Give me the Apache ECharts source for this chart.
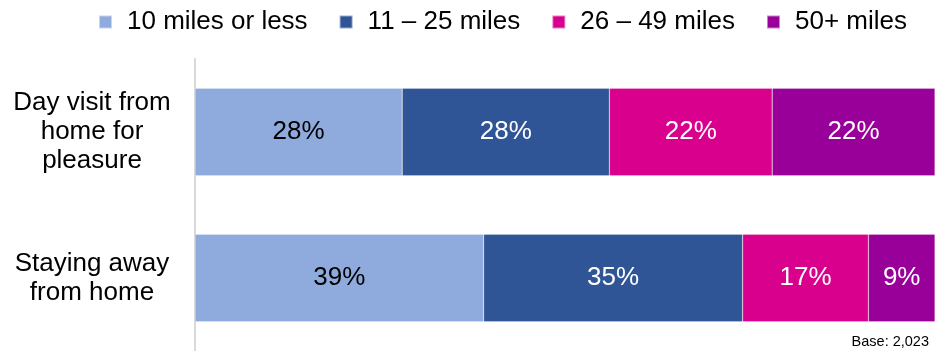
<!DOCTYPE html>
<html><head><meta charset="utf-8">
<script src="https://cdn.jsdelivr.net/npm/echarts@6/dist/echarts.min.js"></script>
<style>html,body{margin:0;padding:0;background:#fff}#c{width:935px;height:351px}</style>
</head><body><div id="c"></div>
<script>
const categories = ["Day visit from\nhome for\npleasure", "Staying away\nfrom home"];
const seriesNames = ["10 miles or less", "11 \u2013 25 miles", "26 \u2013 49 miles", "50+ miles"];
const values10 = [28, 39];
const values11 = [28, 35];
const values26 = [22, 17];
const values50 = [22, 9];
const colors = ["#8FAADC", "#2F5597", "#D9008D", "#990099"];
const labelColors = ["#000000", "#ffffff", "#ffffff", "#ffffff"];
const allValues = [values10, values11, values26, values50];
const FF = "Liberation Sans, Arial, sans-serif";

const chart = echarts.init(document.getElementById('c'));
chart.setOption({
  animation: false,
  textStyle: {fontFamily: FF},
  legend: {
    left: 93, top: 4, itemWidth: 13, itemHeight: 13, itemGap: 31,
    icon: 'rect',
    textStyle: {fontSize: 26, color: '#000', fontFamily: FF, padding: [0, 0, 0, 10]},
    data: seriesNames
  },
  grid: {left: 195, right: 0, top: 59, bottom: 0, containLabel: false},
  xAxis: {type: 'value', min: 0, max: 100, show: false},
  yAxis: {
    type: 'category', data: categories, inverse: true,
    axisLine: {show: true, lineStyle: {color: '#D9D9D9', width: 2}},
    axisTick: {show: false},
    axisLabel: {align: 'center', margin: 103, fontSize: 26, lineHeight: 29, color: '#000', fontFamily: FF}
  },
  series: seriesNames.map((n, i) => ({
    name: n, type: 'bar', stack: 'a', barWidth: '60%',
    data: allValues[i],
    itemStyle: {color: colors[i], borderColor: 'rgba(255,255,255,0.5)', borderWidth: 0.5},
    label: {show: true, position: 'inside', formatter: '{c}%', fontSize: 26, color: labelColors[i], fontFamily: FF}
  })),
  graphic: [{
    type: 'text', right: 6, bottom: 2,
    style: {text: 'Base: 2,023', fontSize: 14.5, fill: '#000', fontFamily: FF}
  }]
});
</script></body></html>
